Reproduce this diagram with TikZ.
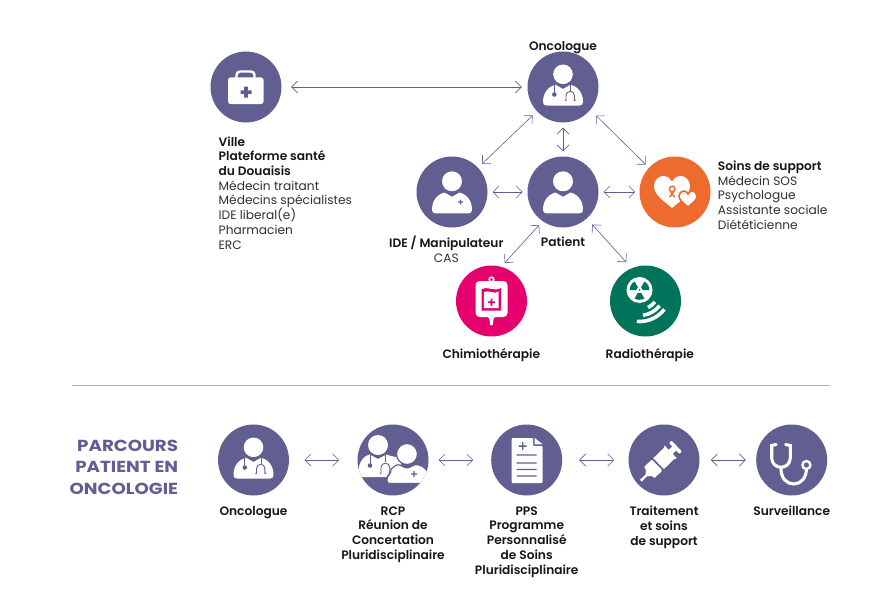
\documentclass[tikz,border=0pt]{standalone}
\usepackage{fontspec}
\setmainfont{Poppins}[BoldFont={Poppins SemiBold}]
\newfontfamily\titlefont{Poppins Bold}[FakeStretch=1.14]
\usetikzlibrary{arrows.meta}
\definecolor{pur}{HTML}{615E92}
\definecolor{org}{HTML}{EE6B2F}
\definecolor{pnk}{HTML}{E5006D}
\definecolor{grn}{HTML}{00745B}
\definecolor{ink}{HTML}{15151C}
\definecolor{reg}{HTML}{2E2E38}
\newcommand{\bodyshape}{(-16.5,18.5) -- (16.5,18.5) .. controls (18.8,18.5) and (20,17.3) .. (20,15) .. controls (20,7) and (16,0) .. (7.5,-2.3) -- (0,2) -- (-7.5,-2.3) .. controls (-16,0) and (-20,7) .. (-20,15) .. controls (-20,17.3) and (-18.8,18.5) .. (-16.5,18.5) -- cycle}
\newcommand{\heartshape}{(0,16) .. controls (-8,9) and (-18,3) .. (-18,-6) .. controls (-18,-12) and (-13,-16) .. (-9,-16) .. controls (-5,-16) and (-2,-14) .. (0,-10) .. controls (2,-14) and (5,-16) .. (9,-16) .. controls (13,-16) and (18,-12) .. (18,-6) .. controls (18,3) and (8,9) .. (0,16) -- cycle}
\newcommand{\stethmarks}{%
  \draw[pur,line width=.9pt] (-8.7,-2.6) -- (-8.7,7);
  \fill[pur] (-8.7,7.5) circle (2.3pt);
  \draw[pur,line width=.9pt] (7.5,-2.6) -- (7.5,4.3);
  \draw[pur,line width=.9pt] (1.8,13.3) -- (3,13.3) -- (3,8.5) arc[start angle=180,end angle=0,radius=4.2pt] -- (11.4,13.3) -- (12.6,13.3);}
\tikzset{
  x=1pt,y=-1pt,
  disc/.style={circle,minimum size=71pt,inner sep=0pt,fill=#1},
  twoway/.style={{Straight Barb[length=6pt,width=12pt,line width=.6pt]}-{Straight Barb[length=6pt,width=12pt,line width=.6pt]},pur,line width=.6pt},
  boldlabel/.style={anchor=north,inner sep=0pt,align=center,text=ink,font=\fontsize{12.2}{14.7}\selectfont\bfseries,execute at begin node=\strut},
  leftlabel/.style={anchor=north west,inner sep=0pt,align=left,text=reg,font=\fontsize{12.2}{14.7}\selectfont,execute at begin node=\strut},
  doctoricon/.pic={
    \fill[white] (0,-12.7) circle (9.8pt);
    \fill[white] \bodyshape;
    \stethmarks},
  patienticon/.pic={
    \fill[white] (0,-10.7) circle (10pt);
    \fill[white,shift={(0,2.8)}] \bodyshape;},
  nurseicon/.pic={
    \fill[white] (0,-10.7) circle (10pt);
    \fill[white,shift={(0,2.8)}] \bodyshape;
    \fill[pur] (6,9.4) rectangle (11,10.6) (7.9,7.5) rectangle (9.1,12.5);},
  kiticon/.pic={
    \draw[white,line width=2.4pt,rounded corners=3.5pt] (-9.5,-8) -- (-9.5,-15.5) -- (8.5,-15.5) -- (8.5,-8);
    \fill[white,rounded corners=2.5pt] (-18,-9.5) rectangle (17.5,17);
    \fill[pur] (-5.5,3.3) rectangle (5.5,6.9) (-1.8,-.5) rectangle (1.8,10.7);},
  hearticon/.pic={
    \fill[white,shift={(-3,0)}] \heartshape;
    \draw[org,line width=1.4pt] (-2.8,-3) circle (2.8pt);
    \draw[org,line width=1.4pt] (-4.5,-.5) -- (-.4,5.2) (-1.1,-.5) -- (-5.4,5.2);
    \draw[org,line width=1.6pt,fill=white,shift={(13,7)},scale=.5] \heartshape;},
  bagicon/.pic={
    \draw[white,line width=1.6pt] (0,-21.5) circle (2.3pt);
    \fill[white,rounded corners=4pt] (-16,-20) rectangle (16,16);
    \fill[white] (-6,15) .. controls (-2,16) and (-1.5,18) .. (-1.4,24) -- (1.4,24) .. controls (1.5,18) and (2,16) .. (6,15) -- cycle;
    \fill[pnk] (-10,-12) .. controls (-4,-15) and (3,-9) .. (9.5,-13) -- (9.5,9.5) -- (-10,9.5) -- cycle;
    \fill[white] (-7.6,-9) .. controls (-3,-11.5) and (3,-6) .. (7.2,-9.5) -- (7.2,7.2) -- (-7.6,7.2) -- cycle;
    \fill[pnk] (-3.6,.3) rectangle (3.6,2.1) (-.9,-2.4) rectangle (.9,4.8);},
  radioicon/.pic={
    \begin{scope}[shift={(-6,-11)}]
      \fill[white] (0,0) circle (13pt);
      \foreach \a in {0,120,240} {
        \fill[grn] (\a:3.3pt) -- (\a:9.8pt) arc[start angle=\a,end angle=\a+60,radius=9.8pt] -- (\a+60:3.3pt) arc[start angle=\a+60,end angle=\a,radius=3.3pt] -- cycle;}
      \fill[grn] (0,0) circle (.9pt);
      \draw[white,line width=3.6pt] (-38:19.5pt) arc[start angle=-38,end angle=-64,radius=19.5pt];
      \draw[white,line width=3.6pt] (-38:25.5pt) arc[start angle=-38,end angle=-82,radius=25.5pt];
      \draw[white,line width=3.6pt] (-38:31.5pt) arc[start angle=-38,end angle=-95,radius=31.5pt];
    \end{scope}},
  teamicon/.pic={
    \begin{scope}
      \clip (0,0) circle (35.5pt);
      \fill[white] (-15,-15) circle (10pt);
      \fill[white] (-34,17) -- (8,17) -- (8,-2) .. controls (3,-3) and (-3,-4) .. (-6.5,-5.5) -- (-15,-1) -- (-23.5,-5.5) .. controls (-29,-4) and (-32,0) .. (-34,6) -- cycle;
      \draw[pur,line width=.9pt] (-23,-5) -- (-23,4);
      \fill[pur] (-23,5.5) circle (2.3pt);
      \draw[pur,line width=.9pt] (-7.5,-5) -- (-7.5,2);
      \draw[pur,line width=.9pt] (-13,13.3) -- (-12,13.3) -- (-12,7.5) arc[start angle=180,end angle=0,radius=4.4pt] -- (-3.2,13.3) -- (-2,13.3);
      \fill[white,draw=pur,line width=1.2pt,rounded corners=2.5pt] (-6,23.5) -- (-6,17) -- (-4,15) .. controls (-3,11) and (-1,7) .. (5.5,4.2) -- (14,8.5) -- (22.5,4.2) .. controls (32,6) and (36,12) .. (40,23.5) -- cycle;
      \fill[white,draw=pur,line width=1.2pt] (14,-6) circle (10.5pt);
      \fill[pur] (18,13.4) rectangle (24,14.6) (20.4,11) rectangle (21.6,17);
    \end{scope}},
  docicon/.pic={
    \fill[white,rounded corners=1pt] (-15,-22) -- (6.5,-22) -- (6.5,-14) -- (16,-14) -- (16,23) -- (-15,23) -- cycle;
    \fill[white] (8,-22) -- (16,-15.6) -- (8,-15.6) -- cycle;
    \fill[pur] (-8,-14.6) rectangle (0,-13.2) (-4.7,-18) rectangle (-3.3,-10);
    \fill[pur] (-10,-5.6) rectangle (10,-4.4) (-10,2.4) rectangle (10,3.6) (-10,8.9) rectangle (10,10.1) (-10,15.4) rectangle (10,16.6);},
  syringeicon/.pic={
    \begin{scope}[shift={(-4.5,2.7)},rotate=44]
      \fill[white] (-26,-1.2) rectangle (-17,1.2);
      \fill[white] (-18,-1.5) -- (-14,-5) -- (-14,5) -- (-18,1.5) -- cycle;
      \fill[white,rounded corners=1pt] (-14.5,-7.6) rectangle (-3.3,7.6);
      \fill[white] (-1.3,-7.6) rectangle (14.5,7.6);
      \fill[white] (14,-8.5) rectangle (15.6,8.5);
      \fill[white] (15,-2.8) rectangle (21,2.8);
      \fill[white,rounded corners=.8pt] (20.5,-7.5) rectangle (24,7.5);
    \end{scope}},
  scopeicon/.pic={
    \draw[white,line width=3.1pt,line cap=round] (-15.5,-15.5) -- (-20,-14.5) -- (-20,-2) arc[start angle=180,end angle=360,radius=9.3pt] -- (-1.4,-14.5) -- (-6,-15.5);
    \draw[white,line width=3.1pt] (-10.7,7) -- (-10.7,9) .. controls (-10.7,18) and (-5,24) .. (2,24) .. controls (9,24) and (14.7,18) .. (14.7,9);
    \draw[white,line width=2.4pt] (14.7,5) circle (4pt);}
}
\begin{document}
\begin{tikzpicture}
\useasboundingbox (0,0) rectangle (870,610);
% discs
\node[disc=pur] (ville) at (246,87) {};
\node[disc=pur] (onco) at (563,87) {};
\node[disc=pur] (ide) at (452,192) {};
\node[disc=pur] (patient) at (563,192) {};
\node[disc=org] (soins) at (675,192) {};
\node[disc=pnk] (chimio) at (491.5,301) {};
\node[disc=grn] (radio) at (645.5,301) {};
\node[disc=pur] (onco2) at (253.5,460) {};
\node[disc=pur] (rcp) at (393,460) {};
\node[disc=pur] (pps) at (526.7,460) {};
\node[disc=pur] (trait) at (664,460) {};
\node[disc=pur] (surv) at (791.7,460) {};
% icons
\pic at (ville) {kiticon};
\pic at (onco) {doctoricon};
\pic at (ide) {nurseicon};
\pic at (patient) {patienticon};
\pic at (soins) {hearticon};
\pic at (chimio) {bagicon};
\pic at (radio) {radioicon};
\pic at (onco2) {doctoricon};
\pic at (rcp) {teamicon};
\pic at (pps) {docicon};
\pic at (trait) {syringeicon};
\pic at (surv) {scopeicon};
% connectors
\draw[twoway,shorten <=9.5pt,shorten >=5.5pt] (ville) -- (onco);
\draw[twoway,shorten <=6pt,shorten >=5.5pt] (onco.223) -- (ide.43);
\draw[twoway,shorten <=5pt,shorten >=5pt] (onco) -- (patient);
\draw[twoway,shorten <=8pt,shorten >=4.5pt] (onco.320) -- (soins.137);
\draw[twoway,shorten <=4.8pt,shorten >=4.7pt] (ide) -- (patient);
\draw[twoway,shorten <=4.8pt,shorten >=4.2pt] (patient) -- (soins);
\draw[twoway,shorten <=5pt,shorten >=5pt] (patient.235) -- (chimio.74);
\draw[twoway,shorten <=8pt,shorten >=8pt] (patient.312) -- (radio.113);
\draw[twoway,shorten <=15.3pt,shorten >=18.2pt] (onco2) -- (rcp);
\draw[twoway,shorten <=9.8pt,shorten >=17.9pt] (rcp) -- (pps);
\draw[twoway,shorten <=16.8pt,shorten >=14.2pt] (pps) -- (trait);
\draw[twoway,shorten <=11.2pt,shorten >=10.2pt] (trait) -- (surv);
% rule
\coordinate (ruleL) at (72,385);
\coordinate (ruleR) at (830,385);
\draw[black!30,line width=.7pt] (ruleL) -- (ruleR);
% labels
\node[boldlabel] (lOnco) at (563,39.6) {Oncologue};
\node[leftlabel] (lVille) at (218.5,136.4) {\textbf{\textcolor{ink}{Ville}}\\\textbf{\textcolor{ink}{Plateforme santé}}\\\textbf{\textcolor{ink}{du Douaisis}}\\Médecin traitant\\Médecins spécialistes\\IDE liberal(e)\\Pharmacien\\ERC};
\node[leftlabel] (lSoins) at (717.7,160.7) {\textbf{\textcolor{ink}{Soins de support}}\\Médecin SOS\\Psychologue\\Assistante sociale\\Diététicienne};
\node[boldlabel] (lIde) at (446.3,235.6) {IDE / Manipulateur\\\textcolor{reg}{\mdseries CAS}};
\node[boldlabel] (lPat) at (563,236) {Patient};
\node[boldlabel] (lChi) at (491.3,348) {Chimiothérapie};
\node[boldlabel] (lRad) at (649.8,348) {Radiothérapie};
\node[anchor=east,inner sep=0pt,align=right,text=pur,font=\fontsize{16}{21.5}\selectfont\titlefont] (title) at (178.3,467) {PARCOURS\\PATIENT EN\\ONCOLOGIE};
\node[boldlabel] (b1) at (253.5,504.8) {Oncologue};
\node[boldlabel] (b2) at (393,506.4) {RCP\\Réunion de\\Concertation\\Pluridisciplinaire};
\node[boldlabel] (b3) at (526.7,506.4) {PPS\\Programme\\Personnalisé\\de Soins\\Pluridisciplinaire};
\node[boldlabel] (b4) at (664,506) {Traitement\\et soins\\de support};
\node[boldlabel] (b5) at (791.7,504.8) {Surveillance};
\end{tikzpicture}
\end{document}
